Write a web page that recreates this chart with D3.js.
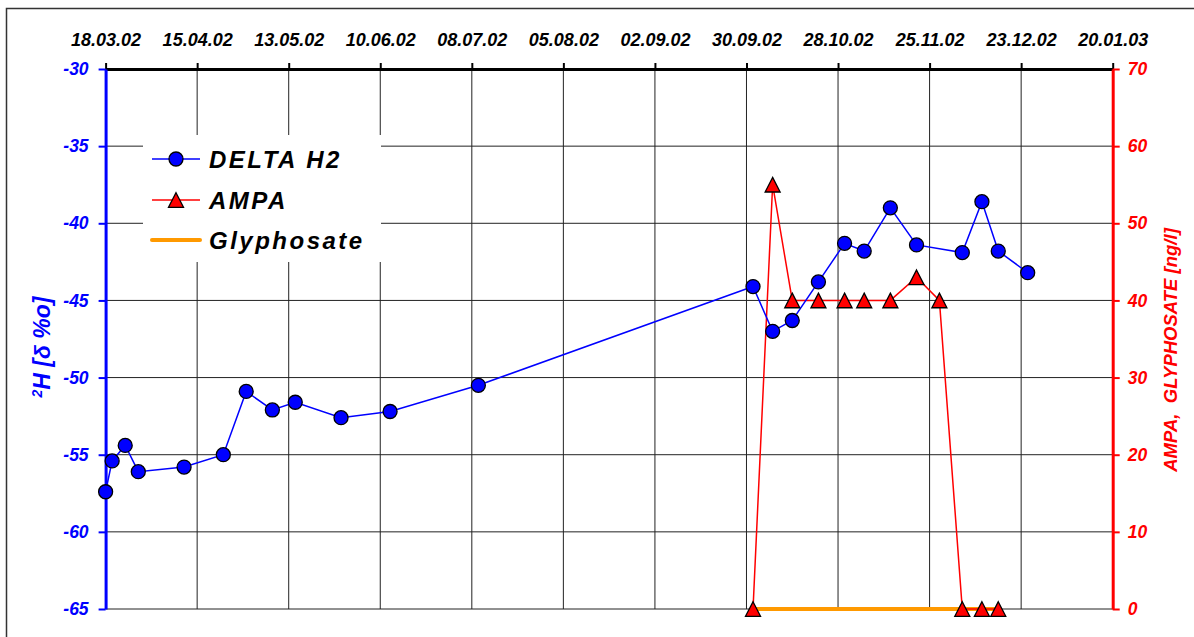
<!DOCTYPE html>
<html>
<head>
<meta charset="utf-8">
<script src="https://cdn.jsdelivr.net/npm/d3@7"></script>
<style>
  html, body { margin: 0; padding: 0; background: #fff; }
  svg { display: block; }
  text { font-family: "Liberation Sans", Arial, sans-serif; font-weight: bold; font-style: italic; }
</style>
</head>
<body>
<svg id="chart" width="1194" height="637"></svg>
<script>
// ---------- DATA ----------
const xTickLabels = ["18.03.02","15.04.02","13.05.02","10.06.02","08.07.02","05.08.02","02.09.02","30.09.02","28.10.02","25.11.02","23.12.02","20.01.03"];
const leftTicks = [-65,-60,-55,-50,-45,-40,-35,-30];
const rightTicks = [0,10,20,30,40,50,60,70];

const deltaDates = ["2002-03-18","2002-03-20","2002-03-24","2002-03-28","2002-04-11","2002-04-23","2002-04-30","2002-05-08","2002-05-15","2002-05-29","2002-06-13","2002-07-10","2002-10-02","2002-10-08","2002-10-14","2002-10-22","2002-10-30","2002-11-05","2002-11-13","2002-11-21","2002-12-05","2002-12-11","2002-12-16","2002-12-25"];
const deltaH2 = [-57.4,-55.4,-54.4,-56.1,-55.8,-55.0,-50.9,-52.1,-51.6,-52.6,-52.2,-50.5,-44.1,-47.0,-46.3,-43.8,-41.3,-41.8,-39.0,-41.4,-41.9,-38.6,-41.8,-43.2];

const ampaDates = ["2002-10-02","2002-10-08","2002-10-14","2002-10-22","2002-10-30","2002-11-05","2002-11-13","2002-11-21","2002-11-28","2002-12-05","2002-12-11","2002-12-16"];
const ampa = [0,55,40,40,40,40,40,43,40,0,0,0];
const glyphosate = [0,0,0,0,0,0,0,0,0,0,0,0];

const legendLabels = ["DELTA H2","AMPA","Glyphosate"];
const leftTitle = "H [\u03B4 %o]";
const rightTitle = "AMPA,  GLYPHOSATE [ng/l]";

// ---------- SETUP ----------
const svg = d3.select("#chart");
const m = {left: 105.6, right: 1112.7, top: 69, bottom: 609};
const parseLabel = d3.utcParse("%d.%m.%y");
const parseIso = d3.utcParse("%Y-%m-%d");
const tickDates = xTickLabels.map(parseLabel);

const x = d3.scaleUtc().domain([tickDates[0], tickDates[tickDates.length-1]]).range([m.left, m.right]);
const yL = d3.scaleLinear().domain([-65,-30]).range([m.bottom, m.top]);
const yR = d3.scaleLinear().domain([0,70]).range([m.bottom, m.top]);

const BLUE = "#0000FF", RED = "#FF0000", ORANGE = "#FF9900";
const triPath = "M0,-7.3L7.5,7.3L-7.5,7.3Z";

// outer frame
svg.append("rect").attr("x", 6.5).attr("y", 8.5).attr("width", 1300).attr("height", 700)
  .attr("fill", "none").attr("stroke", "#333").attr("stroke-width", 1.5);

// gridlines
const grid = svg.append("g");
grid.selectAll("line.v").data(tickDates).join("line")
  .attr("x1", d => x(d)).attr("x2", d => x(d)).attr("y1", m.top).attr("y2", m.bottom)
  .attr("stroke", "#222").attr("stroke-width", 1);
grid.selectAll("line.h").data(leftTicks).join("line")
  .attr("x1", m.left).attr("x2", m.right).attr("y1", d => yL(d)).attr("y2", d => yL(d))
  .attr("stroke", "#222").attr("stroke-width", 1);

// legend background
svg.append("rect").attr("x", 143).attr("y", 135).attr("width", 238).attr("height", 127).attr("fill", "#fff");

// glyphosate line
const gData = ampaDates.map((d,i) => ({d: parseIso(d), v: glyphosate[i]}));
svg.append("path").datum(gData)
  .attr("d", d3.line().x(p => x(p.d)).y(p => yR(p.v)))
  .attr("fill", "none").attr("stroke", ORANGE).attr("stroke-width", 4);

// AMPA line
const aData = ampaDates.map((d,i) => ({d: parseIso(d), v: ampa[i]}));
svg.append("path").datum(aData)
  .attr("d", d3.line().x(p => x(p.d)).y(p => yR(p.v)))
  .attr("fill", "none").attr("stroke", RED).attr("stroke-width", 1.5);

// Delta H2 line
const hData = deltaDates.map((d,i) => ({d: parseIso(d), v: deltaH2[i]}));
svg.append("path").datum(hData)
  .attr("d", d3.line().x(p => x(p.d)).y(p => yL(p.v)))
  .attr("fill", "none").attr("stroke", BLUE).attr("stroke-width", 1.5);

// axes
const fontSize = 17.5;
const topAxis = d3.axisTop(x).tickValues(tickDates).tickFormat((d,i) => xTickLabels[i]).tickSize(6).tickPadding(17).tickSizeOuter(0);
const gTop = svg.append("g").attr("transform", `translate(0,${m.top})`).call(topAxis);
gTop.select(".domain").attr("stroke", "#000").attr("stroke-width", 3);
gTop.selectAll(".tick line").attr("stroke", "#000").attr("stroke-width", 2);
gTop.selectAll(".tick text").attr("fill", "#000").style("font-size", "18px").attr("font-family", null);

const leftAxis = d3.axisLeft(yL).tickValues(leftTicks).tickFormat(d => String(d)).tickSize(7).tickPadding(10).tickSizeOuter(0);
const gLeft = svg.append("g").attr("transform", `translate(${m.left},0)`).call(leftAxis);
gLeft.select(".domain").attr("stroke", BLUE).attr("stroke-width", 3);
gLeft.selectAll(".tick line").attr("stroke", BLUE).attr("stroke-width", 2);
gLeft.selectAll(".tick text").attr("fill", BLUE).style("font-size", fontSize + "px").attr("font-family", null);

const rightAxis = d3.axisRight(yR).tickValues(rightTicks).tickFormat(d => String(d)).tickSize(7).tickPadding(8).tickSizeOuter(0);
const gRight = svg.append("g").attr("transform", `translate(${m.right},0)`).call(rightAxis);
gRight.select(".domain").attr("stroke", RED).attr("stroke-width", 3);
gRight.selectAll(".tick line").attr("stroke", RED).attr("stroke-width", 2);
gRight.selectAll(".tick text").attr("fill", RED).style("font-size", fontSize + "px").attr("font-family", null);

// markers
svg.append("g").selectAll("path").data(aData).join("path")
  .attr("d", triPath)
  .attr("transform", p => `translate(${x(p.d)},${yR(p.v)})`)
  .attr("fill", RED).attr("stroke", "#000").attr("stroke-width", 1.3).attr("stroke-linejoin", "miter");

svg.append("g").selectAll("circle").data(hData).join("circle")
  .attr("cx", p => x(p.d)).attr("cy", p => yL(p.v)).attr("r", 7)
  .attr("fill", BLUE).attr("stroke", "#000").attr("stroke-width", 1.3);

// axis titles
const lt = svg.append("text")
  .attr("transform", "translate(50,347) rotate(-90)")
  .attr("text-anchor", "middle").attr("fill", BLUE).style("font-size", "23px");
lt.append("tspan").attr("baseline-shift", "super").style("font-size", "14px").text("2");
lt.append("tspan").text(leftTitle);

svg.append("text")
  .attr("transform", "translate(1177,350) rotate(-90)")
  .attr("text-anchor", "middle").attr("fill", RED).style("font-size", "18.5px")
  .attr("xml:space", "preserve").style("white-space", "pre")
  .text(rightTitle);

// legend
const legY = [159, 200, 240];
const leg = svg.append("g");
leg.append("line").attr("x1", 152).attr("x2", 200).attr("y1", legY[0]).attr("y2", legY[0]).attr("stroke", BLUE).attr("stroke-width", 1.5);
leg.append("circle").attr("cx", 176).attr("cy", legY[0]).attr("r", 7).attr("fill", BLUE).attr("stroke", "#000").attr("stroke-width", 1.3);
leg.append("line").attr("x1", 152).attr("x2", 200).attr("y1", legY[1]).attr("y2", legY[1]).attr("stroke", RED).attr("stroke-width", 1.5);
leg.append("path").attr("d", triPath).attr("transform", `translate(176,${legY[1]})`).attr("fill", RED).attr("stroke", "#000").attr("stroke-width", 1.3);
leg.append("line").attr("x1", 152).attr("x2", 200).attr("y1", legY[2]).attr("y2", legY[2]).attr("stroke", ORANGE).attr("stroke-width", 4).attr("stroke-linecap", "round");
leg.selectAll("text.lg").data(legendLabels).join("text")
  .attr("x", 209).attr("y", (d,i) => legY[i] + 8.5)
  .attr("fill", "#000").style("font-size", "24px").style("letter-spacing", "2.5px")
  .text(d => d);
</script>
</body>
</html>
